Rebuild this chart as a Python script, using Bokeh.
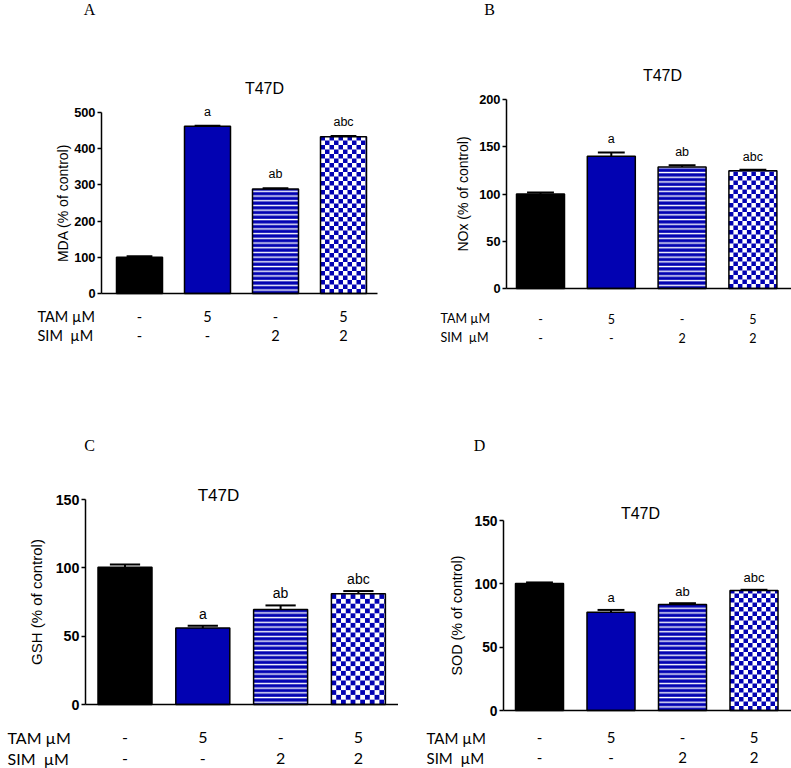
import math
from bokeh.plotting import figure
from bokeh.layouts import column, row
from bokeh.models import Range1d, Label, FixedTicker, ColumnDataSource
from bokeh.embed import file_html
from bokeh.resources import INLINE

# ---------------- data ----------------
groups = [1, 2, 3, 4]                      # Control, TAM, SIM, TAM+SIM
tam_row = ["-", "5", "-", "5"]
sim_row = ["-", "-", "2", "2"]
sig_letters = ["", "a", "ab", "abc"]
row_labels = ["TAM \u00b5M", "SIM\u00a0\u00a0\u00b5M"]
cell_line = "T47D"

mda = [100, 462, 289, 433]
mda_err = [3, 1.5, 2, 2]
nox = [100, 140, 128.5, 124.5]
nox_err = [1.5, 4, 2, 1.2]
gsh = [100.5, 56, 69.5, 81]
gsh_err = [2, 1.7, 3, 2]
sod = [100.3, 77.6, 83.7, 94.7]
sod_err = [0.8, 1.8, 1, 0.6]

panel_letters = ["A", "B", "C", "D"]
y_labels = ["MDA (% of control)", "NOx (% of control)",
            "GSH (% of control)", "SOD (% of control)"]
y_ticks = [[0, 100, 200, 300, 400, 500], [0, 50, 100, 150, 200],
           [0, 50, 100, 150], [0, 50, 100, 150]]
values = [mda, nox, gsh, sod]
errors = [mda_err, nox_err, gsh_err, sod_err]

# ---------------- layout (page pixels) ----------------
layouts = [
    dict(fig=(0, 0, 398, 384), frame=(101, 377, 112, 293), c1=139, sp=68, bw=46,
         title=(264, 88), letter=(89, 9), rlx=37, rows=(316, 335), ylab_x=62,
         tick_fs=12.8, axis_fs=14, title_fs=16, sig_fs=12.5, row_fs=14.5, gap=14, cell=4.5),
    dict(fig=(398, 0, 393, 384), frame=(506, 791, 99, 288), c1=540, sp=70.8, bw=48,
         title=(662, 75), letter=(489, 9), rlx=440, rows=(318, 337), ylab_x=462,
         tick_fs=12.8, axis_fs=14, title_fs=16, sig_fs=12.5, row_fs=12.5, gap=13, cell=4.5),
    dict(fig=(0, 384, 398, 384), frame=(85, 398, 499, 704), c1=124.5, sp=77.8, bw=54,
         title=(218, 495), letter=(89, 445), rlx=7, rows=(737, 758), ylab_x=36,
         tick_fs=14.3, axis_fs=15, title_fs=17, sig_fs=14, row_fs=16, gap=12, cell=4.8),
    dict(fig=(398, 384, 393, 384), frame=(503, 791, 520, 710), c1=539, sp=71.5, bw=48,
         title=(640, 513), letter=(479, 445), rlx=426, rows=(737, 757), ylab_x=456,
         tick_fs=13.8, axis_fs=14.3, title_fs=16, sig_fs=13, row_fs=15, gap=12, cell=4.5),
]

BLUE = "#0202b2"
SANS = "Liberation Sans"
ROWFONT = "Lato"


def build(i):
    L = layouts[i]
    fx, fy, fw, fh = L["fig"]
    left, right, top, bottom = L["frame"]
    ymax = y_ticks[i][-1]
    c1, sp = L["c1"], L["sp"]
    upp = ymax / (bottom - top)           # data units per pixel (y)

    def dx(px):
        return 1 + (px - c1) / sp

    def dy(py):
        return (bottom - py) * upp

    p = figure(width=fw, height=fh, output_backend="svg", toolbar_location=None,
               x_range=Range1d(dx(fx), dx(fx + fw)), y_range=Range1d(dy(fy + fh), dy(fy)),
               min_border=0, background_fill_color="white", border_fill_color="white")
    p.outline_line_color = None
    p.xgrid.visible = False
    p.ygrid.visible = False

    # y axis drawn at the left edge of the plotting region
    ya = p.yaxis[0]
    ya.fixed_location = dx(left)
    ya.bounds = (0, ymax)
    ya.ticker = FixedTicker(ticks=y_ticks[i])
    ya.minor_tick_line_color = None
    ya.major_tick_in = 0
    ya.major_tick_out = 4
    ya.major_tick_line_width = 1.5
    ya.axis_line_width = 1.5
    ya.major_label_standoff = 2
    ya.major_label_text_font = SANS
    ya.major_label_text_font_style = "bold"
    ya.major_label_text_font_size = f"{L['tick_fs']}px"
    ya.major_label_text_color = "black"

    # x axis: line only, at y = 0
    xa = p.xaxis[0]
    xa.fixed_location = 0
    xa.bounds = (dx(left), dx(right))
    xa.ticker = FixedTicker(ticks=[])
    xa.major_tick_line_color = None
    xa.minor_tick_line_color = None
    xa.axis_line_width = 1.5

    vals = values[i]
    errs = errors[i]
    bw = L["bw"] / sp

    # control and TAM bars (solid)
    p.vbar(x=groups[0], top=vals[0], bottom=0, width=bw, fill_color="black",
           line_color="black", line_width=1.5)
    p.vbar(x=groups[1], top=vals[1], bottom=0, width=bw, fill_color=BLUE,
           line_color="black", line_width=1.5)
    # SIM bar (horizontal stripes)
    p.vbar(x=groups[2], top=vals[2], bottom=0, width=bw, fill_color=BLUE,
           hatch_pattern="horizontal_line", hatch_color="white",
           hatch_scale=4.7, hatch_weight=1.4, line_color=None)
    # TAM+SIM bar (checkerboard)
    p.vbar(x=groups[3], top=vals[3], bottom=0, width=bw, fill_color="white",
           line_color=None)
    cs = L["cell"]
    cw, ch = cs / sp, cs * upp
    x0b, x1b = groups[3] - bw / 2, groups[3] + bw / 2
    ncol = int(math.ceil((x1b - x0b) / cw))
    nrow = int(math.ceil(vals[3] / ch))
    ql, qr, qb, qt = [], [], [], []
    for r in range(nrow):
        for c in range(ncol):
            if (r + c) % 2 == 0:
                l_ = x0b + c * cw
                b_ = r * ch
                ql.append(l_)
                qr.append(min(l_ + cw, x1b))
                qb.append(b_)
                qt.append(min(b_ + ch, vals[3]))
    p.quad(left=ql, right=qr, bottom=qb, top=qt, fill_color=BLUE, line_color=None)
    # outlines for patterned bars
    p.vbar(x=groups[2:], top=vals[2:], bottom=0, width=bw, fill_color=None,
           line_color="black", line_width=1.5)

    # error bars (upper only)
    cap = 0.28 * bw
    esrc = ColumnDataSource(dict(
        x=groups, y0=vals, y1=[v + e for v, e in zip(vals, errs)],
        xl=[g - cap for g in groups], xr=[g + cap for g in groups]))
    p.segment(x0="x", y0="y0", x1="x", y1="y1", source=esrc,
              line_color="black", line_width=2)
    p.segment(x0="xl", y0="y1", x1="xr", y1="y1", source=esrc,
              line_color="black", line_width=2)

    # y axis title (rotated)
    p.add_layout(Label(x=dx(L["ylab_x"]), y=ymax / 2, text=y_labels[i], angle=math.pi / 2,
                       text_align="center", text_baseline="middle", text_font=SANS,
                       text_font_size=f"{L['axis_fs']}px", text_color="black"))

    # significance letters
    for k in range(4):
        if sig_letters[k]:
            p.add_layout(Label(x=groups[k], y=vals[k] + errs[k] + L["gap"] * upp,
                               text=sig_letters[k], text_align="center",
                               text_baseline="alphabetic", text_font=SANS,
                               text_font_size=f"{L['sig_fs']}px", text_color="black"))

    # cell line title
    tx, ty = L["title"]
    p.add_layout(Label(x=dx(tx), y=dy(ty), text=cell_line, text_align="center",
                       text_baseline="middle", text_font=SANS,
                       text_font_size=f"{L['title_fs']}px", text_color="black"))

    # panel letter
    lx, ly = L["letter"]
    p.add_layout(Label(x=dx(lx), y=dy(ly), text=panel_letters[i], text_align="center",
                       text_baseline="middle", text_font="Liberation Serif",
                       text_font_size="16px", text_color="black"))

    # treatment rows
    for r, (lab, entries) in enumerate(zip(row_labels, [tam_row, sim_row])):
        ry = dy(L["rows"][r])
        p.add_layout(Label(x=dx(L["rlx"]), y=ry, text=lab, text_align="left",
                           text_baseline="middle", text_font=ROWFONT,
                           text_font_size=f"{L['row_fs']}px", text_color="black"))
        for k in range(4):
            p.add_layout(Label(x=groups[k], y=ry, text=entries[k], text_align="center",
                               text_baseline="middle", text_font=ROWFONT,
                               text_font_size=f"{L['row_fs']}px", text_color="black"))
    return p


figs = [build(i) for i in range(4)]
layout = column(row(figs[0], figs[1]), row(figs[2], figs[3]))

open("out.html", "w").write(file_html(layout, INLINE))
